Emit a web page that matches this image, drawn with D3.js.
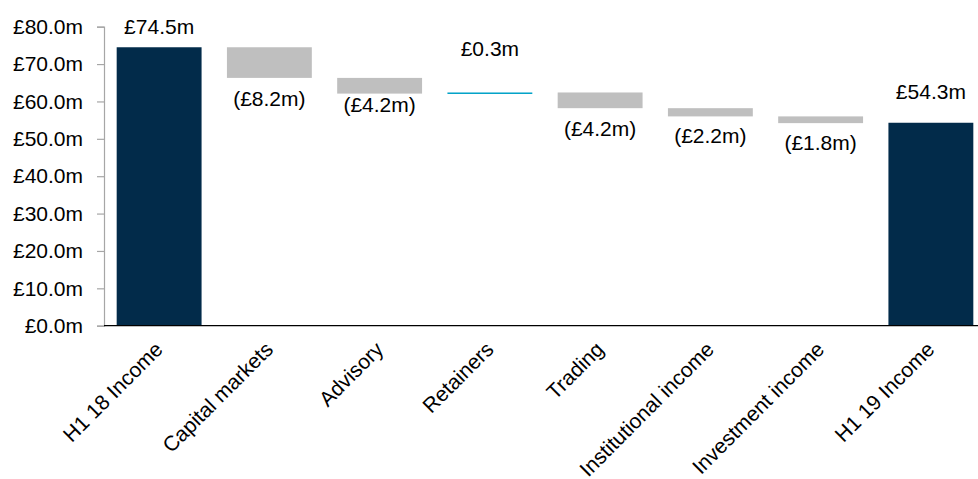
<!DOCTYPE html>
<html>
<head>
<meta charset="utf-8">
<script src="https://cdn.jsdelivr.net/npm/d3@7"></script>
<style>
  html, body { margin: 0; padding: 0; background: #fff; }
  svg { display: block; font-family: "Liberation Sans", Arial, sans-serif; }
</style>
</head>
<body>
<svg id="chart" width="978" height="479"></svg>
<script>
// ---- data ----
const categories = ["H1 18 Income", "Capital markets", "Advisory", "Retainers", "Trading", "Institutional income", "Investment income", "H1 19 Income"];
const values = [74.5, -8.2, -4.2, 0.3, -4.2, -2.2, -1.8, 54.3];
const isTotal = [true, false, false, false, false, false, false, true];
const valueLabels = ["£74.5m", "(£8.2m)", "(£4.2m)", "£0.3m", "(£4.2m)", "(£2.2m)", "(£1.8m)", "£54.3m"];
const yTickValues = [0, 10, 20, 30, 40, 50, 60, 70, 80];

// ---- layout ----
const svg = d3.select("#chart");
const W = 978, H = 479;
const plot = { left: 104, right: 986, top: 26.7, bottom: 325.7 };
const labelGap = [-21, 21, 11, -44, 20, 19, 20, -31];
const colors = { total: "#022b4a", neg: "#bfbfbf", pos: "#00a2c8" };
const fontSize = 21;

svg.append("rect").attr("width", W).attr("height", H).attr("fill", "#fff");

const x = d3.scaleBand().domain(categories).range([plot.left, plot.right])
  .paddingInner(0.23).paddingOuter(0.115);
const y = d3.scaleLinear().domain([0, 80]).range([plot.bottom, plot.top]);

// waterfall segments
let running = 0;
const bars = categories.map((c, i) => {
  let lo, hi;
  if (isTotal[i]) { lo = 0; hi = values[i]; running = values[i]; }
  else { const s = running; running = s + values[i]; lo = Math.min(s, running); hi = Math.max(s, running); }
  return { c, i, lo, hi, v: values[i], total: isTotal[i], label: valueLabels[i] };
});

// y axis
const yAxis = d3.axisLeft(y).tickValues(yTickValues).tickSize(7).tickPadding(14)
  .tickFormat(d => "£" + d3.format(".1f")(d) + "m");
const gy = svg.append("g").attr("transform", `translate(${plot.left},0)`).call(yAxis);
gy.select(".domain").attr("stroke", "#a6a6a6").attr("stroke-width", 1.2);
gy.selectAll(".tick line").attr("stroke", "#a6a6a6").attr("stroke-width", 1.2);
gy.selectAll(".tick text").attr("fill", "#000").style("font-size", fontSize + "px")
  .style("font-family", "'Liberation Sans', Arial, sans-serif");

// bars
svg.append("g").selectAll("rect").data(bars).join("rect")
  .attr("x", d => x(d.c))
  .attr("width", x.bandwidth())
  .attr("y", d => y(d.hi))
  .attr("height", d => Math.max(1.5, y(d.lo) - y(d.hi)))
  .attr("fill", d => d.total ? colors.total : (d.v < 0 ? colors.neg : colors.pos));

// x axis
const xAxis = d3.axisBottom(x).tickSize(0).tickPadding(0);
const gx = svg.append("g").attr("transform", `translate(0,${plot.bottom})`).call(xAxis);
gx.select(".domain").attr("stroke", "#000").attr("stroke-width", 1.3)
  .attr("d", `M${plot.left},0H${W}`);
gx.selectAll(".tick text")
  .attr("fill", "#000")
  .style("font-size", fontSize + "px")
  .style("font-family", "'Liberation Sans', Arial, sans-serif")
  .attr("text-anchor", "end")
  .attr("dy", 0).attr("y", 0)
  .attr("transform", "translate(5,25) rotate(-45)");

// value labels
svg.append("g").selectAll("text").data(bars).join("text")
  .attr("x", d => x(d.c) + x.bandwidth() / 2)
  .attr("y", d => (d.v < 0 && !d.total ? y(d.lo) : y(d.hi)) + labelGap[d.i])
  .attr("dy", "0.35em")
  .attr("text-anchor", "middle")
  .attr("fill", "#000")
  .style("font-size", fontSize + "px")
  .text(d => d.label);
</script>
</body>
</html>
